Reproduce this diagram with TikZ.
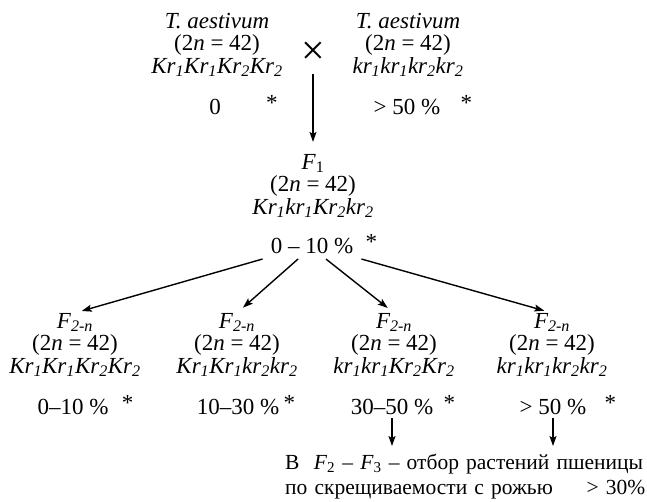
\documentclass[tikz,border=0pt]{standalone}
\usepackage{fontspec}
\setmainfont{Liberation Serif}
\usetikzlibrary{arrows.meta, positioning}

\begin{document}
\begin{tikzpicture}[
    x=1pt, y=-1pt, >={Stealth[length=10pt, width=7pt, inset=2pt]},
    font=\fontsize{23}{22.5}\selectfont,
    plant/.style = {align=center, inner sep=0pt},
    share/.style = {inner sep=0pt},
    starmark/.style = {inner sep=0pt, yshift=4pt},
    arrow/.style = {draw, ->, line width=1.4pt}
]
    \useasboundingbox (0,0) rectangle (647,501);
    % parents
    \node [plant] (wheatA) at (217,45) {\textit{T. aestivum}\\(2\textit{n} = 42)\\\textit{Kr\textsubscript{1}Kr\textsubscript{1}Kr\textsubscript{2}Kr\textsubscript{2}}};
    \node [plant] (wheatB) at (408,45) {\textit{T. aestivum}\\(2\textit{n} = 42)\\\textit{kr\textsubscript{1}kr\textsubscript{1}kr\textsubscript{2}kr\textsubscript{2}}};
    \node [inner sep=0pt, font=\fontsize{42}{42}\selectfont] (cross) at (313,53) {×};
    \node [share] (rateA) at (215,107) {0};
    \node [starmark, base right=45pt of rateA] (starA) {*};
    \node [share] (rateB) at (407,107) {> 50 \%};
    \node [starmark, base right=20pt of rateB] (starB) {*};
    % F1
    \node [plant] (hybrid) at (313,186) {\textit{F}\textsubscript{1}\\(2\textit{n} = 42)\\\textit{Kr\textsubscript{1}kr\textsubscript{1}Kr\textsubscript{2}kr\textsubscript{2}}};
    \node [share, inner xsep=8pt, inner ysep=5pt] (rateF) at (312,246) {0 – 10 \%};
    \node [starmark, base right=4pt of rateF] (starF) {*};
    % F2-n lines
    \node [plant] (lineA) at (75,345) {\textit{F\textsubscript{2-n}}\\(2\textit{n} = 42)\\\textit{Kr\textsubscript{1}Kr\textsubscript{1}Kr\textsubscript{2}Kr\textsubscript{2}}};
    \node [plant] (lineB) at (237,345) {\textit{F\textsubscript{2-n}}\\(2\textit{n} = 42)\\\textit{Kr\textsubscript{1}Kr\textsubscript{1}kr\textsubscript{2}kr\textsubscript{2}}};
    \node [plant] (lineC) at (394,345) {\textit{F\textsubscript{2-n}}\\(2\textit{n} = 42)\\\textit{kr\textsubscript{1}kr\textsubscript{1}Kr\textsubscript{2}Kr\textsubscript{2}}};
    \node [plant] (lineD) at (552,345) {\textit{F\textsubscript{2-n}}\\(2\textit{n} = 42)\\\textit{kr\textsubscript{1}kr\textsubscript{1}kr\textsubscript{2}kr\textsubscript{2}}};
    \node [share] (rateA1) at (73,407) {0–10 \%};
    \node [starmark, base right=13pt of rateA1] (starA1) {*};
    \node [share] (rateB1) at (238,407) {10–30 \%};
    \node [starmark, base right=4pt of rateB1] (starB1) {*};
    \node [share] (rateC1) at (392,407) {30–50 \%};
    \node [starmark, base right=10pt of rateC1] (starC1) {*};
    \node [share] (rateD1) at (553,407) {> 50 \%};
    \node [starmark, base right=18pt of rateD1] (starD1) {*};
    % selection
    \node [share, anchor=north west, align=left, text width=360pt, font=\fontsize{21.5}{25}\selectfont] (note) at (285,454) {\mbox{В\ \ \textit{F}\textsubscript{2} – \textit{F}\textsubscript{3} – отбор растений пшеницы}\\по скрещиваемости с рожью\hfill > 30\%};

    \draw [arrow, shorten <=10pt, shorten >=12pt] (cross.south) -- (hybrid.north);
    \draw [arrow, shorten >=7pt] (rateF.south west) -- (lineA.north);
    \draw [arrow, shorten >=8pt] (rateF.223) -- (lineB.north);
    \draw [arrow, shorten >=8pt] (rateF.317) -- (lineC.north);
    \draw [arrow, shorten >=8pt] (rateF.south east) -- (lineD.north);
    \draw [arrow, shorten <=3pt, shorten >=8pt] (rateC1.south) -- (rateC1.south |- note.north);
    \draw [arrow, shorten <=3pt, shorten >=8pt] (rateD1.south) -- (rateD1.south |- note.north);
\end{tikzpicture}
\end{document}
